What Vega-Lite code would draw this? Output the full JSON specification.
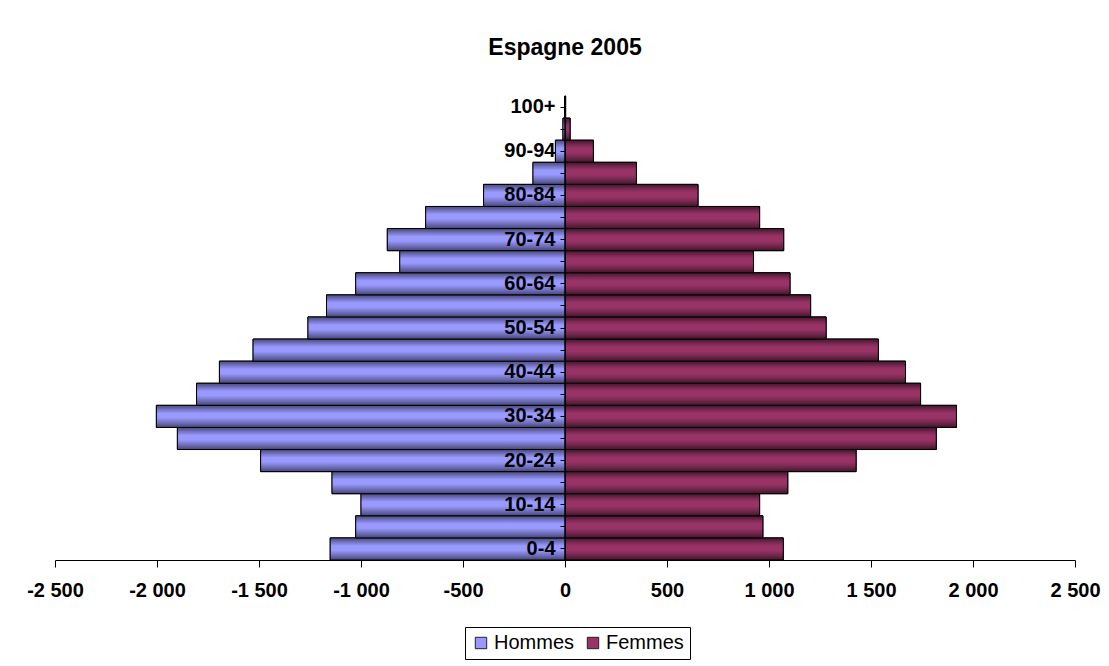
{
  "$schema": "https://vega.github.io/schema/vega-lite/v6.json",
  "width": 1020,
  "height": 464,
  "autosize": {"type": "none"},
  "padding": {"left": 55, "top": 96, "right": 34, "bottom": 106},
  "background": "white",
  "title": {"text": "Espagne 2005", "font": "Liberation Sans", "fontSize": 23, "fontWeight": "bold", "color": "black", "anchor": "middle", "offset": 36},
  "data": {"values": [
    {"age": "0-4", "sexe": "Hommes", "pop": -1151}, {"age": "0-4", "sexe": "Femmes", "pop": 1070},
    {"age": "5-9", "sexe": "Hommes", "pop": -1026}, {"age": "5-9", "sexe": "Femmes", "pop": 970},
    {"age": "10-14", "sexe": "Hommes", "pop": -1000}, {"age": "10-14", "sexe": "Femmes", "pop": 954},
    {"age": "15-19", "sexe": "Hommes", "pop": -1142}, {"age": "15-19", "sexe": "Femmes", "pop": 1092},
    {"age": "20-24", "sexe": "Hommes", "pop": -1492}, {"age": "20-24", "sexe": "Femmes", "pop": 1427},
    {"age": "25-29", "sexe": "Hommes", "pop": -1900}, {"age": "25-29", "sexe": "Femmes", "pop": 1820},
    {"age": "30-34", "sexe": "Hommes", "pop": -2003}, {"age": "30-34", "sexe": "Femmes", "pop": 1919},
    {"age": "35-39", "sexe": "Hommes", "pop": -1806}, {"age": "35-39", "sexe": "Femmes", "pop": 1743},
    {"age": "40-44", "sexe": "Hommes", "pop": -1694}, {"age": "40-44", "sexe": "Femmes", "pop": 1669},
    {"age": "45-49", "sexe": "Hommes", "pop": -1529}, {"age": "45-49", "sexe": "Femmes", "pop": 1536},
    {"age": "50-54", "sexe": "Hommes", "pop": -1260}, {"age": "50-54", "sexe": "Femmes", "pop": 1280},
    {"age": "55-59", "sexe": "Hommes", "pop": -1169}, {"age": "55-59", "sexe": "Femmes", "pop": 1204},
    {"age": "60-64", "sexe": "Hommes", "pop": -1026}, {"age": "60-64", "sexe": "Femmes", "pop": 1103},
    {"age": "65-69", "sexe": "Hommes", "pop": -810}, {"age": "65-69", "sexe": "Femmes", "pop": 924},
    {"age": "70-74", "sexe": "Hommes", "pop": -871}, {"age": "70-74", "sexe": "Femmes", "pop": 1072},
    {"age": "75-79", "sexe": "Hommes", "pop": -683}, {"age": "75-79", "sexe": "Femmes", "pop": 954},
    {"age": "80-84", "sexe": "Hommes", "pop": -399}, {"age": "80-84", "sexe": "Femmes", "pop": 652},
    {"age": "85-89", "sexe": "Hommes", "pop": -157}, {"age": "85-89", "sexe": "Femmes", "pop": 350},
    {"age": "90-94", "sexe": "Hommes", "pop": -47}, {"age": "90-94", "sexe": "Femmes", "pop": 139},
    {"age": "95-99", "sexe": "Hommes", "pop": -10}, {"age": "95-99", "sexe": "Femmes", "pop": 25},
    {"age": "100+", "sexe": "Hommes", "pop": -1}, {"age": "100+", "sexe": "Femmes", "pop": 3}
  ]},
  "encoding": {
    "y": {
      "field": "age", "type": "nominal",
      "sort": ["100+", "95-99", "90-94", "85-89", "80-84", "75-79", "70-74", "65-69", "60-64", "55-59", "50-54", "45-49", "40-44", "35-39", "30-34", "25-29", "20-24", "15-19", "10-14", "5-9", "0-4"],
      "scale": {"paddingInner": 0, "paddingOuter": 0},
      "axis": {
        "title": null, "offset": -510, "zindex": 1,
        "domainColor": "black", "domainWidth": 1, "tickColor": "black", "tickSize": 5,
        "labelFont": "Liberation Sans", "labelFontSize": 20, "labelFontWeight": "bold", "labelColor": "black", "labelPadding": 5,
        "labelOverlap": false,
        "labelExpr": "indexof(['0-4','10-14','20-24','30-34','40-44','50-54','60-64','70-74','80-84','90-94','100+'], datum.value) >= 0 ? datum.value : ''"
      }
    },
    "x": {
      "field": "pop", "type": "quantitative",
      "scale": {"domain": [-2500, 2500], "nice": false},
      "axis": {
        "title": null, "grid": false,
        "values": [-2500, -2000, -1500, -1000, -500, 0, 500, 1000, 1500, 2000, 2500],
        "domainColor": "black", "tickColor": "black", "tickSize": 7,
        "labelFont": "Liberation Sans", "labelFontSize": 20, "labelFontWeight": "bold", "labelColor": "black", "labelPadding": 13,
        "labelFlush": false, "labelOverlap": false,
        "labelExpr": "(datum.value < 0 ? '-' : '') + replace(format(abs(datum.value), ','), ',', ' ')"
      }
    }
  },
  "layer": [
    {
      "mark": {"type": "bar", "stroke": "black", "strokeWidth": 1},
      "encoding": {
        "color": {
          "field": "sexe", "type": "nominal",
          "scale": {"domain": ["Hommes", "Femmes"], "range": ["#9999FF", "#993366"]},
          "legend": {
            "title": null, "orient": "none", "legendX": 410, "legendY": 531, "direction": "horizontal",
            "strokeColor": "black", "padding": 6, "fillColor": "white",
            "symbolType": "square", "symbolSize": 130, "symbolStrokeColor": "#222222", "symbolStrokeWidth": 1,
            "labelFont": "Liberation Sans", "labelFontSize": 20, "labelColor": "black", "labelOffset": 3,
            "columnPadding": 8
          }
        }
      }
    },
    {
      "transform": [{"filter": {"field": "sexe", "equal": "Hommes"}}],
      "mark": {
        "type": "bar", "stroke": "black", "strokeWidth": 1,
        "fill": {"gradient": "linear", "x1": 0, "y1": 0, "x2": 0, "y2": 1, "stops": [
          {"offset": 0, "color": "#4c4c80"},
          {"offset": 0.1, "color": "#5e5e9e"},
          {"offset": 0.22, "color": "#7a7acc"},
          {"offset": 0.36, "color": "#9999ff"},
          {"offset": 0.56, "color": "#9999ff"},
          {"offset": 0.72, "color": "#7c7cce"},
          {"offset": 0.86, "color": "#6262a4"},
          {"offset": 1, "color": "#454575"}
        ]}
      }
    },
    {
      "transform": [{"filter": {"field": "sexe", "equal": "Femmes"}}],
      "mark": {
        "type": "bar", "stroke": "black", "strokeWidth": 1,
        "fill": {"gradient": "linear", "x1": 0, "y1": 0, "x2": 0, "y2": 1, "stops": [
          {"offset": 0, "color": "#45172f"},
          {"offset": 0.1, "color": "#5c1f3e"},
          {"offset": 0.22, "color": "#7d2a55"},
          {"offset": 0.36, "color": "#993366"},
          {"offset": 0.56, "color": "#993366"},
          {"offset": 0.72, "color": "#7e2b56"},
          {"offset": 0.86, "color": "#62213f"},
          {"offset": 1, "color": "#40152b"}
        ]}
      }
    }
  ],
  "config": {"view": {"stroke": null}}
}
